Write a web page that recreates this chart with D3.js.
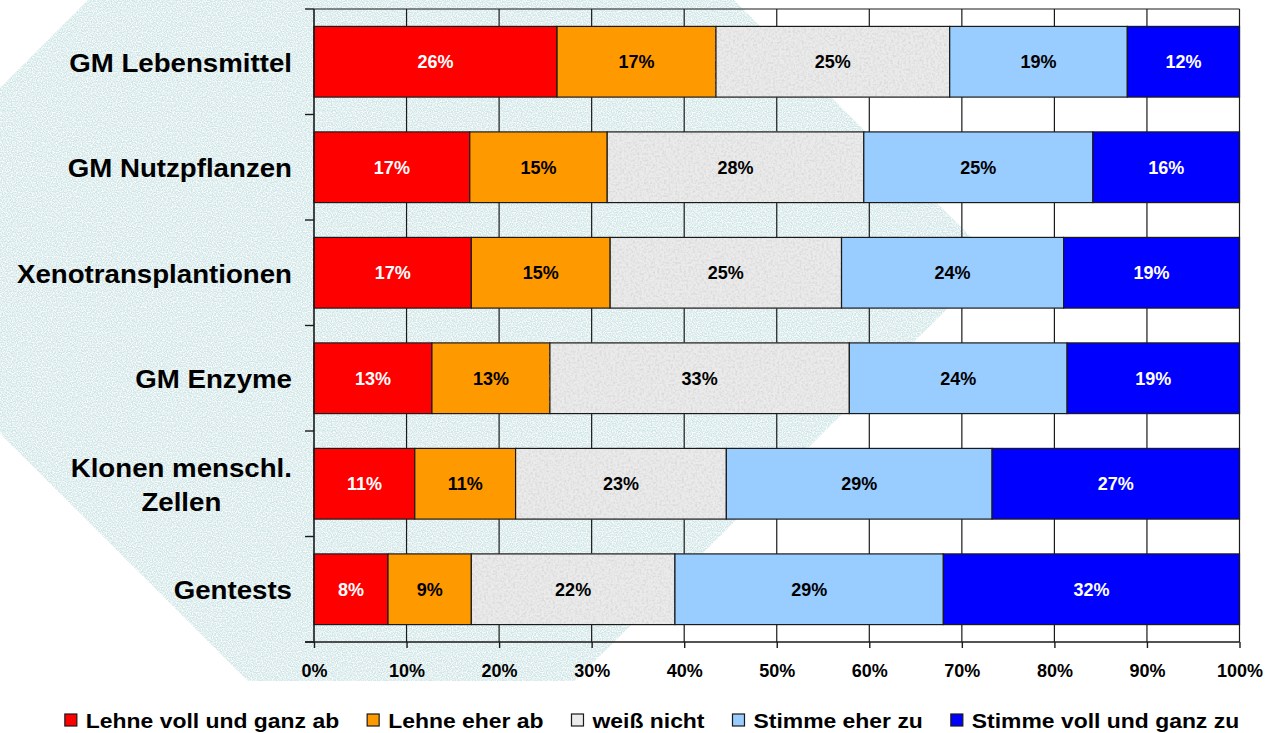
<!DOCTYPE html>
<html><head><meta charset="utf-8">
<script src="https://cdn.jsdelivr.net/npm/d3@7"></script>
<style>
html,body{margin:0;padding:0;background:#fff;}
svg{display:block;font-family:"Liberation Sans",Arial,Helvetica,sans-serif;font-weight:bold;}
</style></head><body>
<svg id="chart" width="1267" height="733"></svg>
<script>
// Survey answers per technology, in percent (as printed on the bars)
const categories = ["GM Lebensmittel", "GM Nutzpflanzen", "Xenotransplantionen", "GM Enzyme", "Klonen menschl.|Zellen", "Gentests"];
const seriesNames = ["Lehne voll und ganz ab", "Lehne eher ab", "weiß nicht", "Stimme eher zu", "Stimme voll und ganz zu"];
const lehneVollUndGanzAb = [26, 17, 17, 13, 11, 8];
const lehneEherAb        = [17, 15, 15, 13, 11, 9];
const weissNicht         = [25, 28, 25, 33, 23, 22];
const stimmeEherZu       = [19, 25, 24, 24, 29, 29];
const stimmeVollUndGanz  = [12, 16, 19, 19, 27, 32];
const xTicks = [0, 0.1, 0.2, 0.3, 0.4, 0.5, 0.6, 0.7, 0.8, 0.9, 1];

const seriesColors = ["#ff0000", "#ff9900", "#ebebeb", "#99ccff", "#0000ff"];
const labelColors  = ["#ffffff", "#000000", "#000000", "#000000", "#ffffff"];

const columns = [lehneVollUndGanzAb, lehneEherAb, weissNicht, stimmeEherZu, stimmeVollUndGanz];
const rows = categories.map((c, i) => {
  const r = {cat: c};
  seriesNames.forEach((s, j) => r[s] = columns[j][i]);
  return r;
});

const svg = d3.select("#chart");
const W = 1267, H = 733;
const plotL = 314, plotR = 1239.5, plotT = 9, plotB = 642;

const defs = svg.append("defs");
// speckled grey for the "weiß nicht" segments
const grain = defs.append("filter").attr("id", "grain")
  .attr("x", 0).attr("y", 0).attr("width", 1).attr("height", 1);
grain.append("feTurbulence").attr("type", "fractalNoise")
  .attr("baseFrequency", 0.45).attr("numOctaves", 3).attr("seed", 4).attr("result", "n");
grain.append("feColorMatrix").attr("in", "n").attr("type", "matrix")
  .attr("values", "0 0 0 0 0.70  0 0 0 0 0.70  0 0 0 0 0.70  2.6 0 0 0 -1.05");
// fine texture for the backdrop shape
const tex = defs.append("filter").attr("id", "tex")
  .attr("x", 0).attr("y", 0).attr("width", 1).attr("height", 1);
tex.append("feTurbulence").attr("type", "fractalNoise")
  .attr("baseFrequency", 0.8).attr("numOctaves", 1).attr("seed", 7).attr("result", "n");
tex.append("feColorMatrix").attr("in", "n").attr("type", "matrix")
  .attr("values", "0 0 0 0 1  0 0 0 0 1  0 0 0 0 1  2.6 0 0 0 -0.9");

svg.append("rect").attr("width", W).attr("height", H).attr("fill", "#fff");

// decorative backdrop
const backdrop = [[-173, 261], [411, -323], [995, 261], [575, 681], [248, 681]];
const bd = d3.line()(backdrop) + "Z";
svg.append("path").attr("d", bd).attr("fill", "#cfe5e6");
svg.append("path").attr("d", bd).attr("fill", "#fff").attr("filter", "url(#tex)");

const x = d3.scaleLinear().domain([0, 1]).range([plotL, plotR]);
const y = d3.scaleBand().domain(categories).range([plotT, plotB])
  .paddingInner(0.33).paddingOuter(0.165);

const stack = d3.stack().keys(seriesNames).offset(d3.stackOffsetExpand);
const stacked = stack(rows);

const lineCol = "#1a1a1a";

// vertical gridlines
svg.append("g").selectAll("line").data(xTicks.slice(1))
  .join("line")
  .attr("x1", d => x(d)).attr("x2", d => x(d))
  .attr("y1", plotT).attr("y2", plotB)
  .attr("stroke", lineCol).attr("stroke-width", 1.2);
// top border
svg.append("line").attr("x1", plotL).attr("x2", plotR).attr("y1", plotT).attr("y2", plotT)
  .attr("stroke", lineCol).attr("stroke-width", 1.2);

// bars
const segG = svg.append("g");
stacked.forEach((layer, j) => {
  const g = segG.append("g");
  g.selectAll("rect.fill").data(layer).join("rect")
    .attr("x", d => x(d[0])).attr("width", d => x(d[1]) - x(d[0]))
    .attr("y", d => y(d.data.cat)).attr("height", y.bandwidth())
    .attr("fill", seriesColors[j]);
  if (j === 2) {
    g.selectAll("rect.grain").data(layer).join("rect")
      .attr("x", d => x(d[0])).attr("width", d => x(d[1]) - x(d[0]))
      .attr("y", d => y(d.data.cat)).attr("height", y.bandwidth())
      .attr("fill", "#000").attr("filter", "url(#grain)");
  }
  g.selectAll("rect.edge").data(layer).join("rect")
    .attr("x", d => x(d[0])).attr("width", d => x(d[1]) - x(d[0]))
    .attr("y", d => y(d.data.cat)).attr("height", y.bandwidth())
    .attr("fill", "none").attr("stroke", lineCol).attr("stroke-width", 1.2);
  g.selectAll("text").data(layer).join("text")
    .attr("x", d => (x(d[0]) + x(d[1])) / 2)
    .attr("y", d => y(d.data.cat) + y.bandwidth() / 2 + 6.4)
    .attr("text-anchor", "middle")
    .attr("font-size", 18)
    .attr("fill", labelColors[j])
    .text(d => d.data[seriesNames[j]] + "%");
});

// y axis line and boundary ticks
svg.append("line").attr("x1", plotL).attr("x2", plotL).attr("y1", plotT).attr("y2", plotB)
  .attr("stroke", lineCol).attr("stroke-width", 1.6);
svg.append("g").selectAll("line").data(d3.range(categories.length + 1))
  .join("line")
  .attr("x1", plotL - 9).attr("x2", plotL)
  .attr("y1", i => y.range()[0] + i * y.step()).attr("y2", i => y.range()[0] + i * y.step())
  .attr("stroke", lineCol).attr("stroke-width", 1.4);

// x axis
const xAxis = svg.append("g").attr("transform", `translate(0,${plotB})`)
  .call(d3.axisBottom(x).tickValues(xTicks).tickFormat(d3.format(".0%")).tickSize(6).tickPadding(0));
xAxis.select(".domain").attr("stroke", lineCol).attr("stroke-width", 1.6)
  .attr("d", `M${plotL - 9},0H${plotR}`);
xAxis.selectAll(".tick line").attr("stroke", lineCol).attr("stroke-width", 1.4);
xAxis.selectAll(".tick text")
  .attr("y", 35).attr("dy", null)
  .attr("font-size", 18).attr("font-weight", "bold")
  .attr("font-family", "'Liberation Sans',Arial,sans-serif").attr("fill", "#000");

// text drawn slightly widened horizontally
function wideText(parent, tx, ty, str, size, sx, anchor) {
  return parent.append("text")
    .attr("transform", `translate(${tx},${ty}) scale(${sx},1)`)
    .attr("text-anchor", anchor).attr("font-size", size).text(str);
}

// category labels
const labX = 292, catSize = 25.5, catSx = 1.085;
categories.forEach(c => {
  const parts = c.split("|");
  const cy = y(c) + y.bandwidth() / 2;
  if (parts.length === 1) {
    wideText(svg, labX, cy + 10, parts[0], catSize, catSx, "end");
  } else {
    const t1 = wideText(svg, labX, cy + 10 - 17, parts[0], catSize, catSx, "end");
    const w = t1.node().getComputedTextLength() * catSx;
    wideText(svg, labX - w / 2, cy + 10 + 17, parts[1], catSize, catSx, "middle");
  }
});

// legend
const leg = svg.append("g");
const legSx = 1.118;
const items = seriesNames.map((s, j) => {
  const g = leg.append("g");
  g.append("rect").attr("x", 0).attr("y", 714).attr("width", 12).attr("height", 12)
    .attr("fill", seriesColors[j]).attr("stroke", lineCol).attr("stroke-width", 1.2);
  const t = wideText(g, 21, 727.5, s, 20.5, legSx, "start");
  return {g, w: 21 + t.node().getComputedTextLength() * legSx};
});
const gap = 28;
const total = d3.sum(items, d => d.w) + gap * (items.length - 1);
let lx = 652 - total / 2;
items.forEach(it => { it.g.attr("transform", `translate(${lx},0)`); lx += it.w + gap; });
</script>
</body></html>
